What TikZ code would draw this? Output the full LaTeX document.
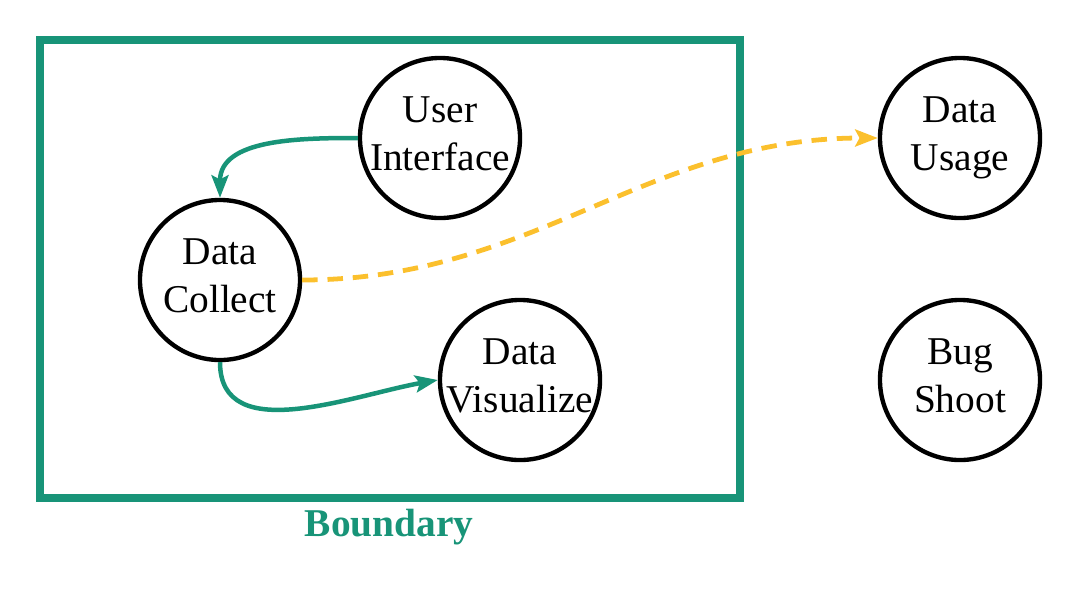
\documentclass[tikz,border=0pt]{standalone}
\usepackage{fontspec}
\setmainfont{Liberation Serif}
\usepackage{tikz}
\usetikzlibrary{arrows.meta, positioning}
\definecolor{bteal}{RGB}{24,148,120}
\definecolor{byellow}{RGB}{251,192,45}
\tikzset{
    proc/.style={circle, draw, line width=3.1pt, minimum size=4cm, inner sep=-12pt, text depth=6pt, align=center, font=\fontsize{28}{34}\selectfont},
    boundbox/.style={rectangle, draw=bteal, line width=6pt, minimum width=17.5cm, minimum height=11.45cm},
    boundlabel/.style={text=bteal, font=\fontsize{28}{34}\selectfont\bfseries},
    tealarrow/.style={draw=bteal, line width=3.2pt, -{Stealth[length=16pt, width=12pt, inset=3pt]}, bteal},
    flowdash/.style={draw=byellow, line width=3.4pt, dash pattern=on 11pt off 7pt, -{Stealth[length=16pt, width=12pt, inset=3pt]}, byellow}
}

\begin{document}
\begin{tikzpicture}[x=0.025cm, y=-0.025cm]
    \useasboundingbox (0,0) rectangle (1080,600);

    \node[boundbox] (boundary) at (390,269) {};
    \node[boundlabel] (blabel) at (389,527) {Boundary};

    \node[proc] (ui) at (440,138) {User\\Interface};
    \node[proc] (collect) at (220,280) {Data\\Collect};
    \node[proc] (visual) at (520,380) {Data\\Visualize};
    \node[proc] (usage) at (960,138) {Data\\Usage};
    \node[proc] (bug) at (960,380) {Bug\\Shoot};

    \draw[tealarrow] (ui.west) to[out=180, in=90] (collect.north);
    \draw[tealarrow] (collect.south) to[out=-90, in=190] (visual.west);
    \draw[flowdash] (collect.east) to[out=0, in=180] (usage.west);
\end{tikzpicture}
\end{document}
